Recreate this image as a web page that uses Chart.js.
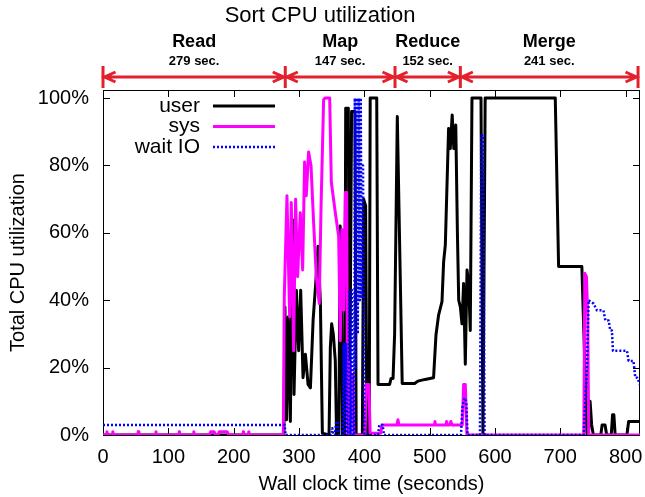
<!DOCTYPE html>
<html>
<head>
<meta charset="utf-8">
<title>Sort CPU utilization</title>
<script src="https://cdn.jsdelivr.net/npm/chart.js@4.4.1/dist/chart.umd.min.js"></script>
<style>
  body { margin: 0; background: #fff; }
  #wrap { width: 645px; height: 497px; }
</style>
</head>
<body>
<div id="wrap"><canvas id="grafico"></canvas></div>
<script>
// fases del trabajo de ordenación (segundos)
const phaseNames = ['Read', 'Map', 'Reduce', 'Merge'];
const phaseSecs = ['279 sec.', '147 sec.', '152 sec.', '241 sec.'];
const phaseEdges = [0, 279, 447, 547, 819];

const xTicks = [0, 100, 200, 300, 400, 500, 600, 700, 800];
const yTicks = [0, 20, 40, 60, 80, 100];

// user
const userT = [0, 277, 278.5, 281, 283.5, 286.8, 289.9, 292.4, 296, 299.5, 302.6, 306.2, 309.8, 313.9, 317.5, 321.6,
  325.6, 329.2, 332.8, 335.8, 346, 348, 350, 352.5, 355.6, 357.5, 361, 363, 365, 366.5, 370, 371.5, 375.5, 377.5,
  380.5, 385.7, 387.5, 397, 399, 402, 404, 407.5, 409, 419, 421, 438.7, 441, 444, 446.4, 450.5, 458, 477, 482, 493,
  506, 509.7, 513.7, 518.9, 521.4, 524, 529, 531.6, 534.5, 537, 540, 542.5, 544.5, 547, 549.5, 552, 554.6, 557.2,
  559.7, 562.2, 564.8, 578.6, 581.6, 585, 692.3, 697.4, 733, 740.8, 743, 745.6, 748, 750.6, 762, 764, 768.5, 771,
  778, 780, 782, 784, 802, 804.6, 822];
const userV = [0, 0, 38, 4.5, 35, 4, 64, 12, 43, 25, 43, 17, 24, 15, 14, 34,
  45, 56, 39, 0.5, 0, 26, 33, 30, 22, 0, 0, 62, 58, 0, 0, 97, 97, 3,
  96, 96, 0, 0, 70, 68, 0, 0, 100, 100, 15, 15, 16.8, 16.8, 30, 94.5, 15.3, 15.3, 16, 16.5,
  17, 29.7, 35.6, 39.6, 51.4, 56.4, 91, 85, 95, 85, 92, 60, 40, 38, 33, 45, 21, 49,
  45, 31, 100, 100, 0, 100, 100, 50, 50, 0, 0, 10, 3, 0, 0, 3, 3, 0,
  0, 6, 6, 0, 0, 4, 4];

// sys
const sysT = [0, 5, 6, 7, 14, 15, 16, 53, 54, 55, 80, 81, 82, 116, 117, 118, 138, 139, 140, 163, 165, 170, 172,
  176, 178, 190, 192, 214, 215, 216, 222, 223, 224, 276, 277.5, 281.6, 285.7, 288.2, 291.8, 294.8, 297.9, 302,
  305.6, 308.6, 311.2, 314.7, 318.4, 322.4, 326.5, 331, 333.7, 337.7, 340, 347, 349.5, 355.6, 360.7, 363.2, 365.8,
  368.3, 371, 373, 374.5, 376.5, 378, 380, 382, 384, 401, 403, 407, 409, 425, 427, 450, 451.5, 453, 507, 508, 509,
  525, 526, 527, 531, 532.5, 534, 550, 552, 554.6, 557, 736, 737.5, 740, 742, 743.5, 822];
const sysV = [0, 0, 1, 0, 0, 1, 0, 0, 1, 0, 0, 1, 0, 0, 1, 0, 0, 1, 0, 0, 1, 1, 0,
  0, 1, 1, 0, 0, 1, 0, 0, 1, 0, 0, 41, 71, 35, 69, 25, 70, 47, 66,
  49, 81, 71, 84, 80, 63, 47, 39, 67, 99.5, 100, 100, 75, 66, 59, 28, 61,
  37, 72, 72, 0, 0, 22, 5, 18, 0, 0, 15, 15, 0.5, 0.5, 3, 3, 4.5, 3, 3, 4, 3,
  3, 4, 3, 3, 4, 3, 3, 15, 15, 0, 0, 48, 47, 35, 0, 0];

// wait IO
const waitT = [0, 278, 279.5, 350, 351, 353, 355, 357, 359, 361, 367, 368.5, 370, 372, 373.5, 375.5, 377, 379, 381,
  383, 384.5, 385.5, 387, 388.5, 390, 391.5, 393, 394.5, 396, 398, 400, 421, 423, 428, 430, 548, 550, 553, 556, 558,
  577, 579, 582, 584, 735.7, 740.8, 743.3, 751, 756, 766, 769, 774, 776.5, 779, 780.6, 802, 804.6, 812, 814.8,
  818, 822];
const waitV = [3, 3, 0, 0, 2, 0, 0, 4, 4, 0, 0, 27, 0, 27, 0, 0, 43, 0, 43,
  0, 0, 100, 20, 100, 30, 100, 40, 100, 41, 80, 0, 0, 3, 3, 0, 0, 8, 11, 10, 0,
  0, 89, 89, 0, 0, 20, 40, 39, 37, 37, 34, 34, 31, 31, 25, 25, 22, 22, 17,
  17, 15];

const toPoints = (t, v) => t.map((x, i) => ({ x: x, y: v[i] }));
const FONT = 'Liberation Sans, Arial, Helvetica, sans-serif';
const RED = '#e3202b';

// marco con marcas hacia dentro (estilo gnuplot)
const marcoPlugin = {
  id: 'marco',
  beforeDatasetsDraw(chart) {
    const { ctx, chartArea: a, scales: { x, y } } = chart;
    ctx.save();
    ctx.strokeStyle = '#000';
    ctx.lineWidth = 1;
    ctx.strokeRect(a.left + 0.5, a.top + 0.5, a.right - a.left - 1, a.bottom - a.top);
    ctx.beginPath();
    xTicks.forEach(v => {
      const px = Math.round(x.getPixelForValue(v)) + 0.5;
      ctx.moveTo(px, a.bottom); ctx.lineTo(px, a.bottom - 7);
      ctx.moveTo(px, a.top); ctx.lineTo(px, a.top + 7);
    });
    yTicks.forEach(v => {
      const py = Math.round(y.getPixelForValue(v)) + 0.5;
      ctx.moveTo(a.left, py); ctx.lineTo(a.left + 7, py);
      ctx.moveTo(a.right, py); ctx.lineTo(a.right - 7, py);
    });
    ctx.stroke();
    ctx.restore();
  }
};

// leyenda dentro del gráfico
const leyendaPlugin = {
  id: 'leyenda',
  afterDatasetsDraw(chart) {
    const { ctx } = chart;
    const orden = [0, 1, 2];
    ctx.save();
    ctx.font = '21px ' + FONT;
    ctx.textAlign = 'right';
    ctx.textBaseline = 'middle';
    orden.forEach((i, k) => {
      const ds = chart.data.datasets[i];
      const yy = 106 + k * 20.5;
      ctx.fillStyle = '#000';
      ctx.fillText(ds.label, 200, yy);
      ctx.strokeStyle = ds.borderColor;
      ctx.lineWidth = ds.borderWidth;
      ctx.setLineDash(ds.borderDash || []);
      ctx.beginPath();
      ctx.moveTo(213, yy); ctx.lineTo(275, yy);
      ctx.stroke();
    });
    ctx.restore();
  }
};

// fases con flechas rojas arriba del gráfico
const fasesPlugin = {
  id: 'fases',
  afterDraw(chart) {
    const { ctx, scales: { x } } = chart;
    const ay = 77;
    ctx.save();
    ctx.strokeStyle = RED;
    ctx.lineWidth = 3;
    ctx.lineCap = 'butt';
    ctx.beginPath();
    phaseEdges.forEach(v => {
      const px = x.getPixelForValue(v);
      ctx.moveTo(px, 66); ctx.lineTo(px, 88);
    });
    ctx.stroke();
    for (let i = 0; i < phaseNames.length; i++) {
      const x1 = x.getPixelForValue(phaseEdges[i]) + 1.5;
      const x2 = x.getPixelForValue(phaseEdges[i + 1]) - 1.5;
      ctx.beginPath();
      ctx.moveTo(x1, ay); ctx.lineTo(x2, ay);
      ctx.moveTo(x1 + 11, ay - 5); ctx.lineTo(x1, ay); ctx.lineTo(x1 + 11, ay + 5);
      ctx.moveTo(x2 - 11, ay - 5); ctx.lineTo(x2, ay); ctx.lineTo(x2 - 11, ay + 5);
      ctx.stroke();
      const cx = (x1 + x2) / 2;
      ctx.fillStyle = '#000';
      ctx.textAlign = 'center';
      ctx.textBaseline = 'middle';
      ctx.font = 'bold 18px ' + FONT;
      ctx.fillText(phaseNames[i], cx, 42);
      ctx.font = 'bold 13px ' + FONT;
      ctx.fillText(phaseSecs[i], cx, 61);
    }
    ctx.restore();
  }
};

const ctxCpu = document.getElementById('grafico').getContext('2d');
new Chart(ctxCpu, {
  type: 'line',
  data: {
    datasets: [
      {
        label: 'user',
        data: toPoints(userT, userV),
        borderColor: '#000000',
        borderWidth: 3,
        order: 2
      },
      {
        label: 'sys',
        data: toPoints(sysT, sysV),
        borderColor: '#ff00ff',
        borderWidth: 3,
        order: 1
      },
      {
        label: 'wait IO',
        data: toPoints(waitT, waitV),
        borderColor: '#0000ff',
        borderWidth: 2.5,
        borderDash: [2, 2],
        order: 0
      }
    ]
  },
  options: {
    responsive: true,
    maintainAspectRatio: false,
    animation: false,
    layout: { padding: { left: 0, right: 5, top: 0, bottom: 0 } },
    elements: {
      point: { radius: 0 },
      line: { tension: 0, fill: false, borderJoinStyle: 'round' }
    },
    plugins: {
      legend: { display: false },
      tooltip: { enabled: false },
      title: {
        display: true,
        text: 'Sort CPU utilization',
        color: '#000',
        font: { family: FONT, size: 22, weight: 'normal' },
        padding: { top: 3, bottom: 60.6 }
      }
    },
    scales: {
      x: {
        type: 'linear',
        min: 0,
        max: 822,
        afterBuildTicks: s => { s.ticks = xTicks.map(v => ({ value: v })); },
        afterFit: s => { s.height = 62; s.paddingLeft = 0; s.paddingRight = 0; },
        grid: { display: false, drawTicks: false },
        border: { display: false },
        ticks: { color: '#000', font: { family: FONT, size: 20 }, padding: 10, maxRotation: 0 },
        title: {
          display: true,
          text: 'Wall clock time (seconds)',
          color: '#000',
          font: { family: FONT, size: 20 },
          padding: { top: 0, bottom: 1 }
        }
      },
      y: {
        min: 0,
        max: 102.4,
        afterBuildTicks: s => { s.ticks = yTicks.map(v => ({ value: v })); },
        afterFit: s => { s.width = 103; },
        grid: { display: false, drawTicks: false },
        border: { display: false },
        ticks: {
          color: '#000',
          font: { family: FONT, size: 20 },
          padding: 14,
          callback: v => v + '%'
        },
        title: {
          display: true,
          text: 'Total CPU utilization',
          color: '#000',
          font: { family: FONT, size: 20 },
          padding: { top: 6, bottom: 0 }
        }
      }
    }
  },
  plugins: [marcoPlugin, leyendaPlugin, fasesPlugin]
});
</script>
</body>
</html>
